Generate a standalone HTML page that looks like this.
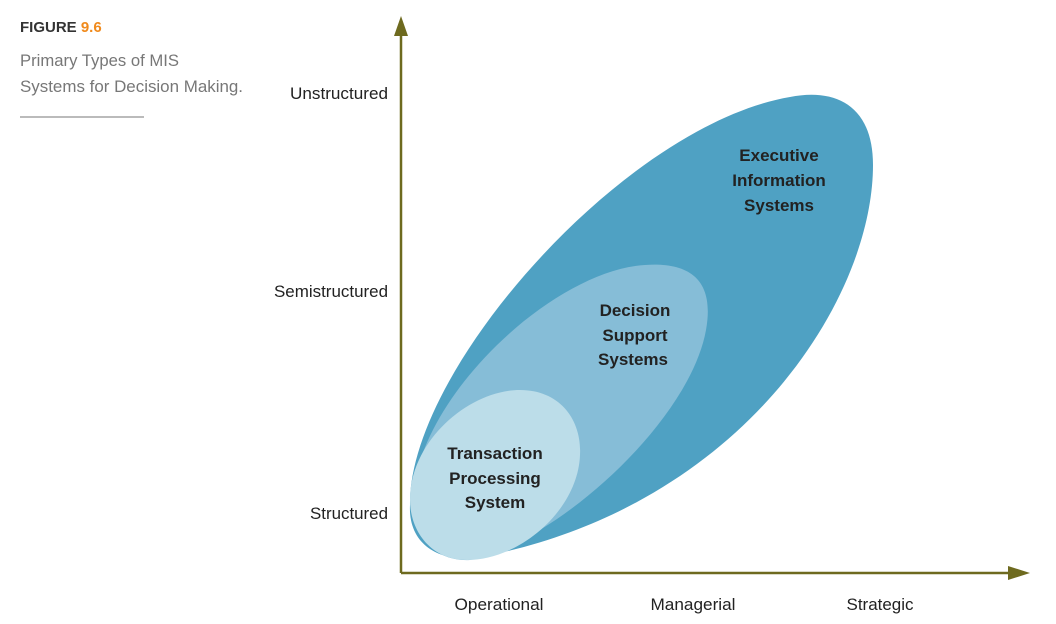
<!DOCTYPE html>
<html><head><meta charset="utf-8"><style>
body{margin:0;width:1056px;height:624px;background:#fff;overflow:hidden;font-family:"Liberation Sans",sans-serif;}
svg{position:absolute;left:0;top:0}
</style></head><body>
<svg width="1056" height="624" viewBox="0 0 1056 624">
<g font-family="'Liberation Sans',sans-serif">
<text x="20" y="32" font-size="15" font-weight="bold" fill="#333">FIGURE <tspan fill="#f08a1c">9.6</tspan></text>
<text x="20" y="66" font-size="17" fill="#777" textLength="159" lengthAdjust="spacingAndGlyphs">Primary Types of MIS</text>
<text x="20" y="92" font-size="17" fill="#777" textLength="223" lengthAdjust="spacingAndGlyphs">Systems for Decision Making.</text>
<line x1="20" y1="117" x2="144" y2="117" stroke="#777" stroke-width="1"/>

<path d="M 475 558 C 740 510, 873 300, 873 165 C 873 105, 835 88, 790 97 C 625 125, 408 370, 410 505 C 408 545, 440 562, 475 558 Z" fill="#4fa1c3"/>
<path d="M 470 560 C 560 540, 690 420, 706 330 C 715 280, 690 262, 645 265 C 560 270, 435 380, 415 480 C 408 530, 430 562, 470 560 Z" fill="#86bdd7"/>
<path d="M 520 390 C 560 390, 582 420, 580 455 C 578 510, 520 560, 467 560 C 430 560, 410 530, 410 500 C 410 440, 470 390, 520 390 Z" fill="#bcdde9"/>

<line x1="401" y1="28" x2="401" y2="573" stroke="#6e6a1f" stroke-width="2.5"/>
<polygon points="401,16 394,36 408,36" fill="#6e6a1f"/>
<line x1="401" y1="573" x2="1015" y2="573" stroke="#6e6a1f" stroke-width="2.5"/>
<polygon points="1030,573 1008,566 1008,580" fill="#6e6a1f"/>

<g font-size="17" fill="#222" text-anchor="end">
<text x="388" y="99" textLength="98" lengthAdjust="spacingAndGlyphs">Unstructured</text>
<text x="388" y="297" textLength="114" lengthAdjust="spacingAndGlyphs">Semistructured</text>
<text x="388" y="519" textLength="78" lengthAdjust="spacingAndGlyphs">Structured</text>
</g>
<g font-size="17" fill="#222" text-anchor="middle">
<text x="499" y="610" textLength="89" lengthAdjust="spacingAndGlyphs">Operational</text>
<text x="693" y="610" textLength="85" lengthAdjust="spacingAndGlyphs">Managerial</text>
<text x="880" y="610" textLength="67" lengthAdjust="spacingAndGlyphs">Strategic</text>
</g>
<g font-size="17" font-weight="bold" fill="#222" text-anchor="middle">
<text x="779" y="161">Executive</text>
<text x="779" y="186">Information</text>
<text x="779" y="211">Systems</text>
<text x="635" y="316">Decision</text>
<text x="635" y="341">Support</text>
<text x="633" y="365">Systems</text>
<text x="495" y="459">Transaction</text>
<text x="495" y="484">Processing</text>
<text x="495" y="508">System</text>
</g>
</g>
</svg>
</body></html>
